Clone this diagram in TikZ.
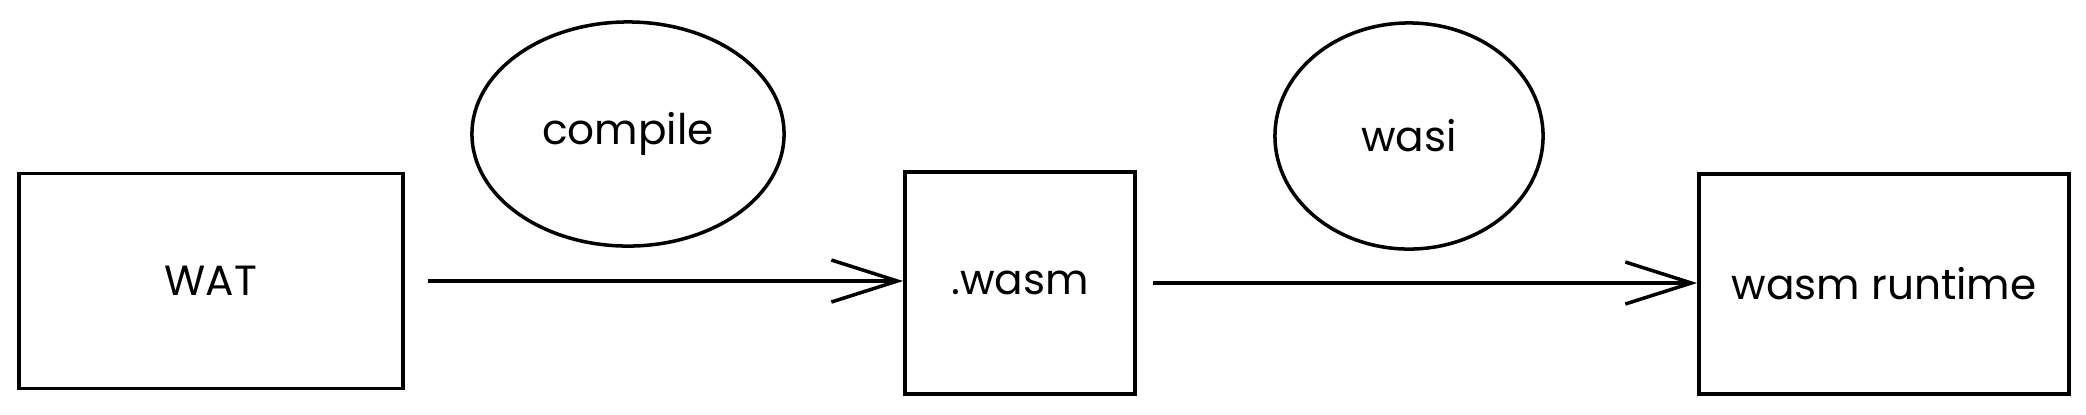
\documentclass[tikz,border=0pt]{standalone}
\usepackage{fontspec}
\setmainfont{Poppins}
\usetikzlibrary{shapes.geometric}
\usetikzlibrary{arrows.meta}

\begin{document}
\begin{tikzpicture}[x=0.01cm,y=-0.01cm,line width=1pt,
    font=\fontsize{12}{14}\selectfont,
    box/.style={draw,rectangle,inner sep=0pt},
    bubble/.style={draw,ellipse,inner sep=0pt},
    >={Straight Barb[length=0.66cm,width=0.42cm]}]
  \useasboundingbox (0,0) rectangle (2086,414);
  \node[box,minimum width=3.84cm,minimum height=2.15cm] (wat) at (211,281) {WAT};
  \node[box,minimum width=2.30cm,minimum height=2.22cm] (wasm) at (1020,283) {.wasm};
  \node[box,minimum width=3.70cm,minimum height=2.20cm] (runtime) at (1884,284) {wasm runtime};
  \node[bubble,minimum width=3.12cm,minimum height=2.24cm] (compile) at (628,134) {compile};
  \node[bubble,minimum width=2.68cm,minimum height=2.26cm] (wasi) at (1409,136) {wasi};
  \draw[->,shorten <=0.23cm] (wat.east) -- (wat.east -| wasm.west);
  \draw[->,shorten <=0.16cm] (wasm.east) -- (wasm.east -| runtime.west);
\end{tikzpicture}
\end{document}
